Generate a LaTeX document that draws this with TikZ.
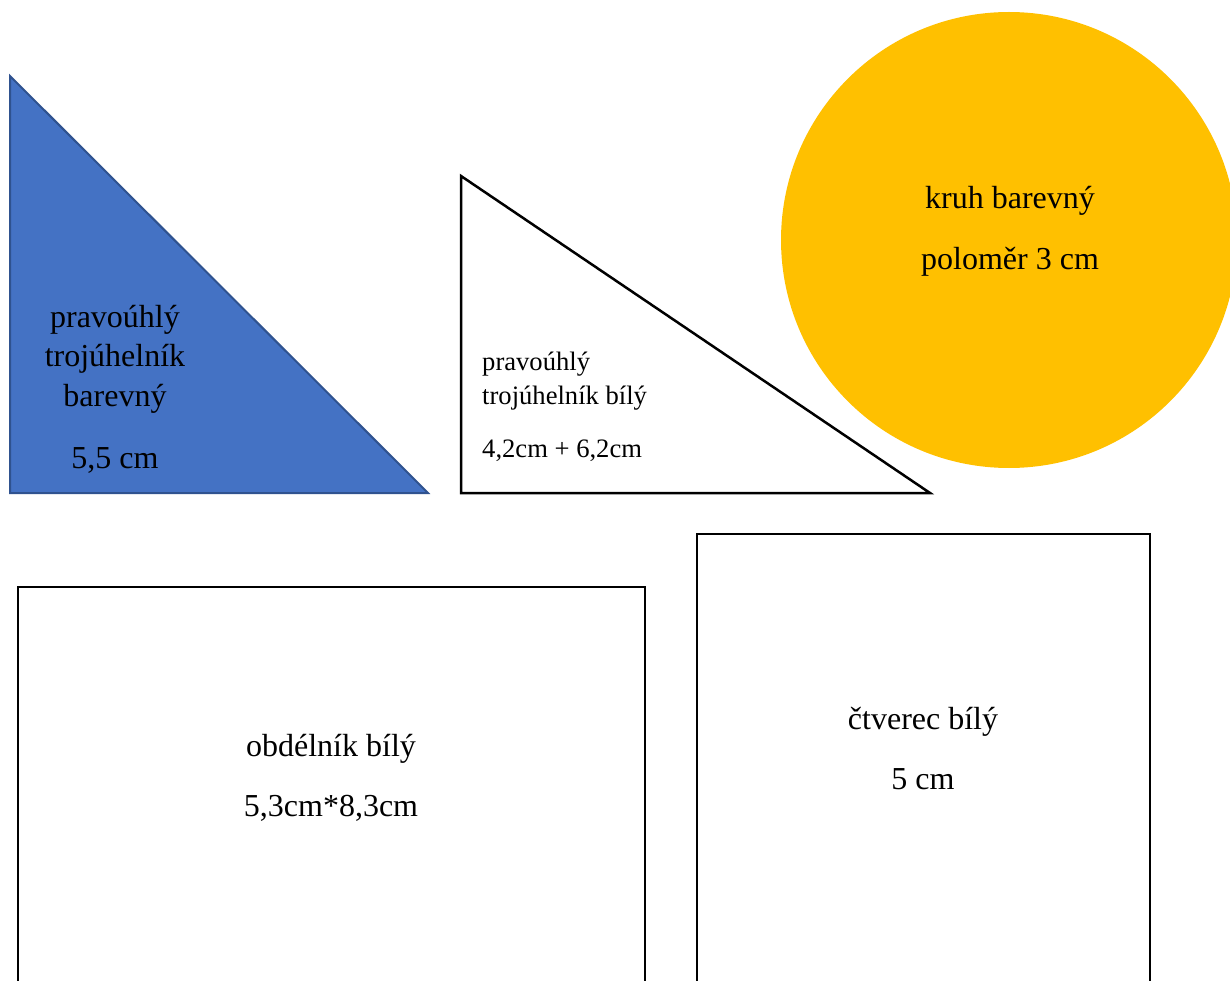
\documentclass[tikz,border=0pt]{standalone}
\usepackage{fontspec}
\setmainfont{Liberation Serif}
\definecolor{triblue}{HTML}{4472C4}
\definecolor{triedge}{HTML}{2F528F}
\definecolor{circgold}{HTML}{FFC000}
\begin{document}
\begin{tikzpicture}[x=1pt,y=-1pt,
  big/.style={font=\fontsize{32}{37}\selectfont, inner sep=0pt, anchor=base},
  small/.style={font=\fontsize{26.6}{31}\selectfont, inner sep=0pt, anchor=base west},
  outline/.style={draw=black, line width=2pt, fill=white}]
\useasboundingbox (0,0) rectangle (1230,981);
\clip (0,0) rectangle (1230,981);
% blue right triangle
\draw[fill=triblue, draw=triedge, line width=2pt, line join=miter] (10,76) -- (10,493) -- (428,493) -- cycle;
\node[big] (b1) at (115,327) {pravoúhlý};
\node[big] (b2) at (115,366) {trojúhelník};
\node[big] (b3) at (115,406) {barevný};
\node[big] (b4) at (115,468) {5,5 cm};
% white right triangle
\draw[outline, line width=2.5pt] (461,176) -- (461,493) -- (930,493) -- cycle;
\node[small] (w1) at (482,370) {pravoúhlý};
\node[small] (w2) at (482,404) {trojúhelník bílý};
\node[small] (w3) at (482,457) {4,2cm + 6,2cm};
% circle
\fill[circgold] (1009,240) circle (228);
\node[big] (c1) at (1010,209) {kruh barevný};
\node[big] (c2) at (1010,270) {poloměr 3 cm};
% rectangle
\draw[outline] (18,587) rectangle (645,1000);
\node[big] (r1) at (331,756) {obdélník bílý};
\node[big] (r2) at (331,816) {5,3cm*8,3cm};
% square
\draw[outline] (697,534) rectangle (1150,1000);
\node[big] (s1) at (923,729) {čtverec bílý};
\node[big] (s2) at (923,789) {5 cm};
\end{tikzpicture}
\end{document}
